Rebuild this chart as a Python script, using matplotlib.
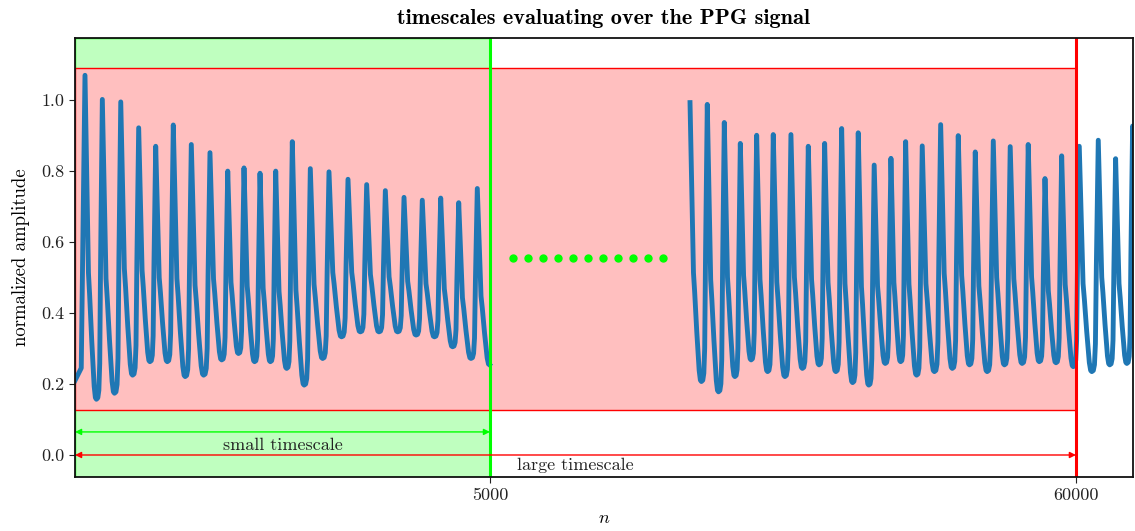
import numpy as np
import matplotlib
matplotlib.use('Agg')
import matplotlib.pyplot as plt
from matplotlib.patches import Rectangle

plt.rcParams['font.family'] = ['cmr10', 'DejaVu Serif']
plt.rcParams['mathtext.fontset'] = 'cm'
plt.rcParams['axes.formatter.use_mathtext'] = True

# first window: sample index of each systolic peak, its amplitude, and the trough after it
peaks_a = [120, 329, 551, 767, 972, 1184, 1401, 1626, 1840, 2036, 2229, 2418,
           2618, 2835, 3060, 3289, 3514, 3739, 3964, 4184, 4406, 4623, 4847]
amp_a = [1.070, 1.002, 0.995, 0.922, 0.870, 0.930, 0.875, 0.852, 0.800, 0.809, 0.794, 0.800,
         0.883, 0.807, 0.798, 0.777, 0.762, 0.745, 0.726, 0.718, 0.724, 0.711, 0.751]
trough_a = [0.157, 0.174, 0.225, 0.263, 0.263, 0.221, 0.225, 0.268, 0.286, 0.263, 0.263, 0.244,
            0.197, 0.272, 0.333, 0.347, 0.347, 0.347, 0.338, 0.333, 0.305, 0.272, 0.254]
start_a = 0.21
end_a = 5000

# second window, up to and a bit past n = 60000
peaks_b = [55350, 55558, 55763, 55956, 56153, 56353, 56566, 56775, 56972, 57177, 57377, 57569,
           57771, 57948, 58148, 58370, 58582, 58787, 59004, 59208, 59425, 59627, 59828, 60040,
           60269, 60478, 60683]
amp_b = [0.993, 0.988, 0.937, 0.878, 0.901, 0.903, 0.903, 0.870, 0.878, 0.920, 0.908, 0.817,
         0.836, 0.883, 0.871, 0.931, 0.900, 0.854, 0.885, 0.869, 0.875, 0.779, 0.843, 0.870,
         0.887, 0.835, 0.927]
trough_b = [0.207, 0.178, 0.221, 0.268, 0.235, 0.221, 0.244, 0.254, 0.235, 0.204, 0.197, 0.258,
            0.263, 0.225, 0.235, 0.244, 0.254, 0.235, 0.254, 0.258, 0.263, 0.260, 0.249, 0.235,
            0.254, 0.258, 0.250]

small_end = 5000
large_end = 60000
gap = 47940  # samples left out between the two windows

shape_t = [0.0, 0.08, 0.20, 0.27, 0.39, 0.53, 0.60, 0.66, 0.74, 0.80, 0.85, 0.90, 0.96]
shape_f = [1.0, 0.75, 0.39, 0.32, 0.18, 0.04, 0.005, 0.0, 0.005, 0.03, 0.12, 0.46, 0.80]


def build(peaks, amps, troughs):
    xs, ys = [], []
    for k in range(len(peaks)):
        period = peaks[k + 1] - peaks[k] if k + 1 < len(peaks) else peaks[k] - peaks[k - 1]
        nxt = amps[k + 1] if k + 1 < len(amps) else amps[k]
        for t, f in zip(shape_t, shape_f):
            top = amps[k] if t <= 0.66 else nxt
            xs.append(peaks[k] + t * period)
            ys.append(troughs[k] + f * (top - troughs[k]))
    return np.array(xs), np.array(ys)


xa, ya = build(peaks_a, amp_a, trough_a)
keep = xa <= end_a
xa = np.concatenate([[0, 75], xa[keep]])
ya = np.concatenate([[start_a, 0.245], ya[keep]])
xb, yb = build(peaks_b, amp_b, trough_b)
xb = xb - gap

fig = plt.figure(figsize=(11.35, 5.31), dpi=100)
ax = fig.add_axes([0.0661, 0.1017, 0.9321, 0.8267])

ax.axvspan(0, small_end, facecolor='#bfffbf', edgecolor='lime', lw=1, zorder=0)
ax.add_patch(Rectangle((0, 0.127), large_end - gap, 0.963, facecolor='#ffbfbf',
                       edgecolor='red', lw=1, zorder=1))

ax.plot(xa, ya, color='#1f77b4', lw=3.5, solid_joinstyle='round', zorder=3)
ax.plot(xb, yb, color='#1f77b4', lw=3.5, solid_joinstyle='round', zorder=3)

ax.axvline(small_end, color='lime', lw=2.2, zorder=4)
ax.axvline(large_end - gap, color='red', lw=2.2, zorder=4)

dots_x = np.linspace(5277, 7084, 11)
ax.plot(dots_x, np.full(11, 0.555), 'o', color='lime', ms=5, zorder=4)

ax.annotate('', xy=(small_end, 0.065), xytext=(0, 0.065),
            arrowprops=dict(arrowstyle='<|-|>', color='lime', lw=1, shrinkA=0, shrinkB=0,
                            mutation_scale=9), zorder=5)
ax.annotate('', xy=(large_end - gap, 0.0), xytext=(0, 0.0),
            arrowprops=dict(arrowstyle='<|-|>', color='red', lw=1, shrinkA=0, shrinkB=0,
                            mutation_scale=9), zorder=5)
ax.text(small_end / 2, 0.028, 'small timescale', ha='center', va='center', fontsize=13,
        color='#222222')
ax.text((large_end - gap) / 2, -0.03, 'large timescale', ha='center', va='center', fontsize=13,
        color='#222222')

ax.set_xlim(0, 12747)
ax.set_ylim(-0.062, 1.175)
ax.set_xticks([small_end, large_end - gap])
ax.set_xticklabels(['5000', '60000'])
ax.set_yticks([0.0, 0.2, 0.4, 0.6, 0.8, 1.0])
ax.set_yticklabels(['0.0', '0.2', '0.4', '0.6', '0.8', '1.0'])
ax.tick_params(labelsize=13, colors='#222222', length=4)
for s in ax.spines.values():
    s.set_linewidth(1.3)
    s.set_color('#111111')
    s.set_zorder(6)

ax.set_xlabel('$n$', fontsize=13, labelpad=6)
ax.set_ylabel('normalized amplitude', fontsize=13.5, labelpad=8)
ax.set_title('timescales evaluating over the PPG signal', fontsize=16, fontweight='bold',
             family=['cmb10', 'DejaVu Serif'], pad=10)

fig.savefig('out.png', dpi=100)
